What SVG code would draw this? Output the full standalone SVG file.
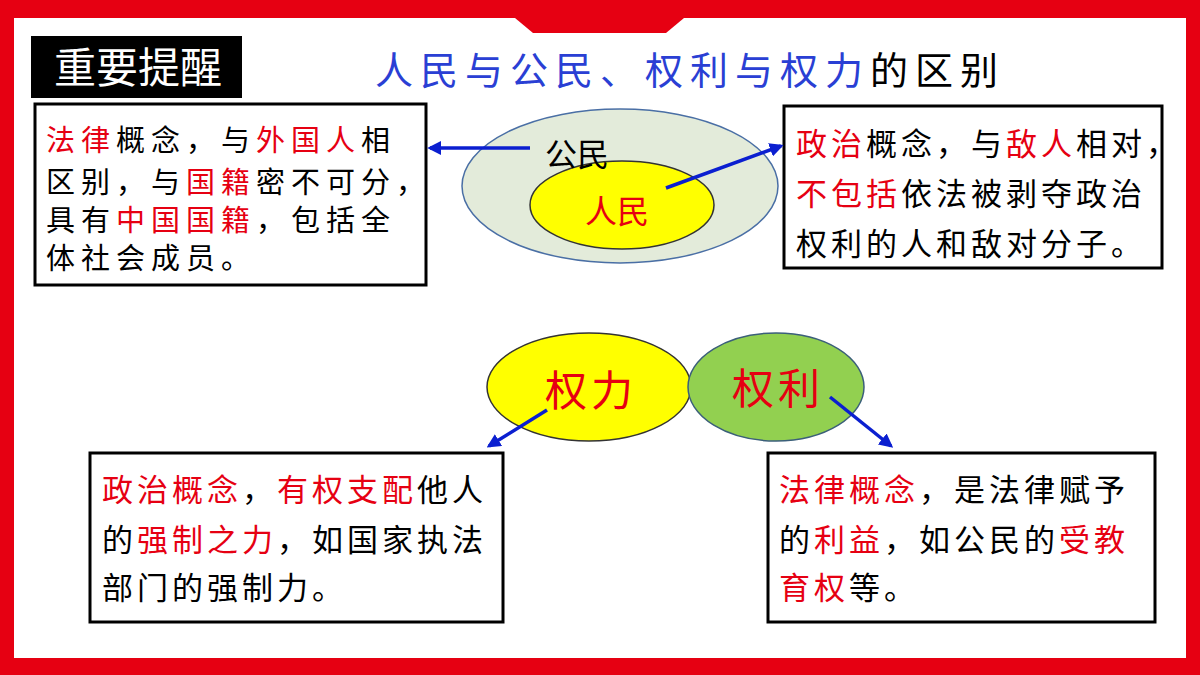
<svg xmlns="http://www.w3.org/2000/svg" width="1200" height="675" viewBox="0 0 1200 675">
<style>
text{font-family:"Noto Sans CJK SC","Noto Sans",sans-serif;}
.t{font-size:31px;fill:#000;letter-spacing:4px}
.l{font-size:29px;fill:#000;letter-spacing:6px}
.r{fill:#e60012}
.box{fill:#fff;stroke:#000;stroke-width:3}
.ar{stroke:#0b1fd0;stroke-width:3.5;fill:none;marker-end:url(#ah)}
</style>
<defs><marker id="ah" viewBox="0 0 10 10" refX="8" refY="5" markerWidth="4" markerHeight="4" orient="auto"><path d="M0,0L10,5L0,10z" fill="#0b1fd0"/></marker></defs>
<rect width="1200" height="675" fill="#e60012"/>
<rect x="14" y="18" width="1172" height="640" fill="#fff"/>
<polygon points="515,18 684,18 666,33 533,33" fill="#e60012"/>
<g id="title-box"><rect x="31" y="36" width="211" height="62" fill="#000"/><text x="138" y="83" font-size="42" fill="#fff" text-anchor="middle">重要提醒</text></g>
<g id="title"><text x="375" y="84" font-size="38" letter-spacing="7" fill="#2a3fd4">人民与公民、权利与权力<tspan fill="#000">的区别</tspan></text></g>
<g id="citizen-diagram">
<ellipse cx="620" cy="186" rx="158" ry="77" fill="#e3ebda" stroke="#4a6fa5" stroke-width="1.5"/>
<ellipse cx="622" cy="205" rx="92" ry="44" fill="#ffff00" stroke="#333" stroke-width="1.5"/>
<text x="545" y="166" font-size="32">公民</text>
<text x="585" y="223" font-size="32" class="r">人民</text>
</g>
<g id="left-box"><rect class="box" x="35" y="104" width="391" height="181"/>
<text class="l" x="46" y="151"><tspan class="r">法律</tspan>概念，与<tspan class="r">外国人</tspan>相</text>
<text class="l" x="46" y="193">区别，与<tspan class="r">国籍</tspan>密不可分，</text>
<text class="l" x="46" y="231">具有<tspan class="r">中国国籍</tspan>，包括全</text>
<text class="l" x="46" y="269">体社会成员。</text></g>
<g id="right-box"><rect class="box" x="784" y="106" width="378" height="162"/>
<text class="t" x="796" y="155"><tspan class="r">政治</tspan>概念，与<tspan class="r">敌人</tspan>相对，</text>
<text class="t" x="796" y="205"><tspan class="r">不包括</tspan>依法被剥夺政治</text>
<text class="t" x="796" y="255">权利的人和敌对分子。</text></g>
<g id="power"><ellipse cx="589" cy="387" rx="102" ry="54" fill="#ffff00" stroke="#333" stroke-width="1.5"/><text x="591" y="406" font-size="42" letter-spacing="4" class="r" text-anchor="middle">权力</text></g>
<g id="right"><ellipse cx="776" cy="387" rx="88" ry="54" fill="#92d050" stroke="#3b5f7a" stroke-width="1.5"/><text x="778" y="404" font-size="42" letter-spacing="4" class="r" text-anchor="middle">权利</text></g>
<g id="power-box"><rect class="box" x="90" y="453" width="413" height="169"/>
<text class="t" x="102" y="501"><tspan class="r">政治概念</tspan>，<tspan class="r">有权支配</tspan>他人</text>
<text class="t" x="102" y="551">的<tspan class="r">强制之力</tspan>，如国家执法</text>
<text class="t" x="102" y="599">部门的强制力。</text></g>
<g id="right-box2"><rect class="box" x="768" y="453" width="387" height="169"/>
<text class="t" x="779" y="501"><tspan class="r">法律概念</tspan>，是法律赋予</text>
<text class="t" x="779" y="551">的<tspan class="r">利益</tspan>，如公民的<tspan class="r">受教</tspan></text>
<text class="t" x="779" y="599"><tspan class="r">育权</tspan>等。</text></g>
<g id="connectors">
<line class="ar" x1="530" y1="148" x2="430" y2="148"/>
<line class="ar" x1="666" y1="188" x2="781" y2="146"/>
<line class="ar" x1="547" y1="410" x2="489" y2="446"/>
<line class="ar" x1="830" y1="397" x2="891" y2="446"/>
</g>
</svg>
